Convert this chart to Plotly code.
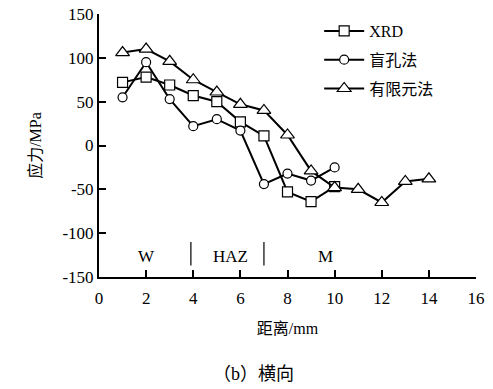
import plotly.graph_objects as go

# measurement positions (mm)
x_xrd = [1, 2, 3, 4, 5, 6, 7, 8, 9, 10]
y_xrd = [72, 78, 69, 57, 50, 27, 11, -53, -64, -47]

x_hole = [1, 2, 3, 4, 5, 6, 7, 8, 9, 10]
y_hole = [55, 95, 53, 22, 30, 17, -44, -32, -40, -25]

x_fem = [1, 2, 3, 4, 5, 6, 7, 8, 9, 10, 11, 12, 13, 14]
y_fem = [106, 110, 96, 75, 61, 47, 40, 12, -29, -48, -50, -65, -41, -38]

series_names = ["XRD", "盲孔法", "有限元法"]

# zone labels and boundaries
zone_labels = ["W", "HAZ", "M"]
zone_label_x = [2, 5.6, 9.6]
zone_bounds = [3.9, 7.0]

x_ticks = [0, 2, 4, 6, 8, 10, 12, 14, 16]
y_ticks = [-150, -100, -50, 0, 50, 100, 150]
y_tick_text = ["-150", "-100", "-50", "0", "50", "100", "150"]

serif = "Liberation Serif, Times New Roman, serif"
cjk = "Liberation Serif, Noto Sans CJK SC, serif"

fig = go.Figure()
symbols = ["square", "circle", "triangle-up"]
sizes = [10, 9, 12]
for i, (xs, ys, name, sym, sz) in enumerate(zip([x_xrd, x_hole, x_fem], [y_xrd, y_hole, y_fem],
                                                series_names, symbols, sizes)):
    fig.add_trace(go.Scatter(
        x=xs, y=ys, name=name, mode="lines+markers", legendgroup=f"g{i}",
        line=dict(color="black", width=2),
        marker=dict(symbol=sym, size=sz, color="white",
                    line=dict(color="black", width=1.2)),
    ))

for lx, lab in zip(zone_label_x, zone_labels):
    fig.add_annotation(x=lx, y=-127, text=lab, showarrow=False,
                       font=dict(family=serif, size=17, color="black"))
for bx in zone_bounds:
    fig.add_shape(type="line", x0=bx, x1=bx, y0=-110, y1=-137,
                  line=dict(color="black", width=1.2))

fig.update_xaxes(range=[0, 16], tickvals=x_ticks, ticks="inside", ticklen=7,
                 tickwidth=1.5, tickcolor="black", showline=True, linecolor="black",
                 linewidth=2, showgrid=False, zeroline=False, automargin=False,
                 ticklabelstandoff=5,
                 tickfont=dict(family=serif, size=17, color="black"),
                 title=dict(text="距离/mm", font=dict(family=cjk, size=16, color="black"),
                            standoff=15))
fig.update_yaxes(range=[-150, 150], tickvals=y_ticks, ticktext=y_tick_text,
                 ticks="inside", ticklen=7,
                 tickwidth=1.5, tickcolor="black", showline=True, linecolor="black",
                 linewidth=2, showgrid=False, zeroline=False, automargin=False,
                 tickfont=dict(family=serif, size=17, color="black"),
                 title=dict(text="应力/MPa", font=dict(family=cjk, size=16, color="black"),
                            standoff=17))

fig.add_annotation(xref="paper", yref="paper", x=0.41, y=-0.369, yanchor="middle",
                   text="（b）横向", showarrow=False,
                   font=dict(family=cjk, size=18, color="black"))

fig.update_layout(
    width=493, height=389,
    margin=dict(l=99, r=17, t=14, b=112),
    paper_bgcolor="white", plot_bgcolor="white",
    legend=dict(x=0.584, y=1.0, xanchor="left", yanchor="top",
                font=dict(family=cjk, size=16, color="black"),
                bgcolor="rgba(0,0,0,0)", tracegroupgap=5, itemwidth=40),
)

fig.write_html("out.html")
